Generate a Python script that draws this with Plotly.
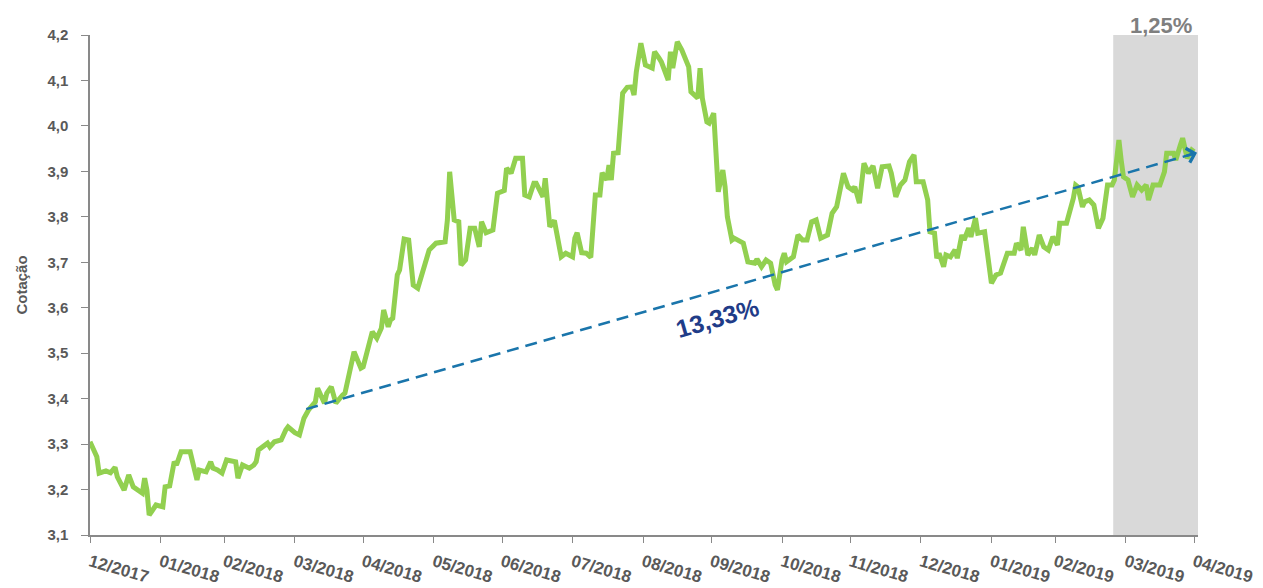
import plotly.graph_objects as go

# ---------------- data ----------------
dates = [
    "2017-12-31", "2018-01-03", "2018-01-04", "2018-01-07", "2018-01-09", "2018-01-11", "2018-01-12",
    "2018-01-15", "2018-01-17", "2018-01-19", "2018-01-23", "2018-01-24", "2018-01-25", "2018-01-26",
    "2018-01-27", "2018-01-29", "2018-02-01", "2018-02-02", "2018-02-04", "2018-02-06", "2018-02-07",
    "2018-02-09", "2018-02-13", "2018-02-16", "2018-02-17", "2018-02-20", "2018-02-22", "2018-02-23",
    "2018-02-25", "2018-02-27", "2018-03-01", "2018-03-05", "2018-03-06", "2018-03-08", "2018-03-11",
    "2018-03-13", "2018-03-14", "2018-03-15", "2018-03-19", "2018-03-20", "2018-03-22", "2018-03-25",
    "2018-03-27", "2018-03-28", "2018-03-31", "2018-04-02", "2018-04-04", "2018-04-06", "2018-04-09",
    "2018-04-10", "2018-04-13", "2018-04-14", "2018-04-16", "2018-04-18", "2018-04-21", "2018-04-22",
    "2018-04-26", "2018-04-29", "2018-04-30", "2018-05-04", "2018-05-06", "2018-05-08", "2018-05-09",
    "2018-05-11", "2018-05-12", "2018-05-13", "2018-05-15", "2018-05-16", "2018-05-18", "2018-05-20",
    "2018-05-22", "2018-05-24", "2018-05-29", "2018-06-01", "2018-06-05", "2018-06-06", "2018-06-07",
    "2018-06-09", "2018-06-11", "2018-06-12", "2018-06-14", "2018-06-16", "2018-06-18", "2018-06-20",
    "2018-06-21", "2018-06-23", "2018-06-26", "2018-06-28", "2018-07-01", "2018-07-02", "2018-07-04",
    "2018-07-06", "2018-07-09", "2018-07-10", "2018-07-12", "2018-07-14", "2018-07-15", "2018-07-17",
    "2018-07-18", "2018-07-19", "2018-07-21", "2018-07-23", "2018-07-26", "2018-07-28", "2018-07-31",
    "2018-08-01", "2018-08-02", "2018-08-04", "2018-08-06", "2018-08-08", "2018-08-10", "2018-08-12",
    "2018-08-13", "2018-08-15", "2018-08-16", "2018-08-17", "2018-08-18", "2018-08-20", "2018-08-22",
    "2018-08-24", "2018-08-26", "2018-08-27", "2018-08-28", "2018-08-30", "2018-09-01", "2018-09-04",
    "2018-09-05", "2018-09-07", "2018-09-08", "2018-09-11", "2018-09-12", "2018-09-13", "2018-09-15",
    "2018-09-17", "2018-09-20", "2018-09-21", "2018-09-24", "2018-09-25", "2018-09-26", "2018-09-28",
    "2018-09-29", "2018-10-01", "2018-10-02", "2018-10-03", "2018-10-05", "2018-10-06", "2018-10-07",
    "2018-10-09", "2018-10-10", "2018-10-14", "2018-10-16", "2018-10-19", "2018-10-20", "2018-10-22",
    "2018-10-24", "2018-10-26", "2018-10-28", "2018-10-29", "2018-10-31", "2018-11-01", "2018-11-02",
    "2018-11-05", "2018-11-07", "2018-11-09", "2018-11-11", "2018-11-13", "2018-11-15", "2018-11-17",
    "2018-11-20", "2018-11-22", "2018-11-24", "2018-11-26", "2018-11-27", "2018-11-29", "2018-12-01",
    "2018-12-02", "2018-12-04", "2018-12-06", "2018-12-08", "2018-12-10", "2018-12-12", "2018-12-14",
    "2018-12-17", "2018-12-18", "2018-12-20", "2018-12-22", "2018-12-24", "2018-12-26", "2018-12-28",
    "2018-12-29", "2019-01-01", "2019-01-03", "2019-01-04", "2019-01-06", "2019-01-07", "2019-01-08",
    "2019-01-10", "2019-01-11", "2019-01-13", "2019-01-15", "2019-01-16", "2019-01-18", "2019-01-19",
    "2019-01-21", "2019-01-22", "2019-01-24", "2019-01-25", "2019-01-28", "2019-01-29", "2019-01-31",
    "2019-02-02", "2019-02-04", "2019-02-07", "2019-02-10", "2019-02-11", "2019-02-13", "2019-02-14",
    "2019-02-16", "2019-02-18", "2019-02-19", "2019-02-21", "2019-02-23", "2019-02-25", "2019-02-27",
    "2019-03-01", "2019-03-02", "2019-03-05", "2019-03-08", "2019-03-09", "2019-03-10", "2019-03-12",
    "2019-03-13", "2019-03-15", "2019-03-17", "2019-03-19", "2019-03-21", "2019-03-23", "2019-03-25",
    "2019-03-26", "2019-03-28", "2019-03-29", "2019-03-30", "2019-04-01", "2019-04-03", "2019-04-05",
    "2019-04-07", "2019-04-09", "2019-04-10", "2019-04-12", "2019-04-15", "2019-04-17", "2019-04-18",
    "2019-04-21", "2019-04-22", "2019-04-24", "2019-04-25", "2019-04-27", "2019-04-29", "2019-04-30",
]

cotacao = [
    3.305, 3.272, 3.236, 3.241, 3.237, 3.249, 3.228,
    3.199, 3.232, 3.206, 3.192, 3.225, 3.199, 3.144,
    3.151, 3.166, 3.162, 3.206, 3.208, 3.261, 3.254,
    3.283, 3.283, 3.221, 3.243, 3.239, 3.261, 3.247,
    3.243, 3.236, 3.265, 3.261, 3.225, 3.254, 3.247,
    3.254, 3.261, 3.287, 3.302, 3.294, 3.305, 3.309,
    3.331, 3.338, 3.325, 3.320, 3.357, 3.375, 3.393,
    3.423, 3.390, 3.412, 3.426, 3.390, 3.408, 3.412,
    3.503, 3.467, 3.470, 3.547, 3.533, 3.555, 3.595,
    3.558, 3.573, 3.577, 3.672, 3.683, 3.751, 3.749,
    3.650, 3.643, 3.727, 3.742, 3.745, 3.793, 3.899,
    3.793, 3.789, 3.694, 3.705, 3.775, 3.775, 3.734,
    3.789, 3.765, 3.771, 3.852, 3.858, 3.907, 3.896,
    3.929, 3.929, 3.848, 3.844, 3.874, 3.874, 3.852,
    3.844, 3.885, 3.778, 3.792, 3.712, 3.720, 3.712,
    3.753, 3.765, 3.721, 3.720, 3.711, 3.848, 3.848,
    3.897, 3.881, 3.914, 3.881, 3.940, 3.941, 4.072,
    4.085, 4.086, 4.068, 4.119, 4.182, 4.134, 4.127,
    4.163, 4.149, 4.141, 4.101, 4.163, 4.127, 4.185,
    4.167, 4.130, 4.075, 4.061, 4.127, 4.061, 4.009,
    4.006, 4.028, 3.947, 3.855, 3.903, 3.866, 3.800,
    3.749, 3.753, 3.742, 3.701, 3.698, 3.707, 3.690,
    3.705, 3.698, 3.650, 3.639, 3.705, 3.720, 3.701,
    3.712, 3.760, 3.749, 3.749, 3.789, 3.793, 3.753,
    3.760, 3.808, 3.822, 3.866, 3.896, 3.866, 3.859,
    3.866, 3.830, 3.918, 3.896, 3.912, 3.863, 3.910,
    3.912, 3.896, 3.844, 3.870, 3.881, 3.921, 3.936,
    3.877, 3.877, 3.837, 3.767, 3.764, 3.709, 3.720,
    3.690, 3.716, 3.712, 3.727, 3.709, 3.760, 3.749,
    3.775, 3.756, 3.797, 3.764, 3.767, 3.727, 3.654,
    3.672, 3.676, 3.720, 3.720, 3.742, 3.727, 3.778,
    3.716, 3.731, 3.716, 3.760, 3.734, 3.727, 3.756,
    3.738, 3.786, 3.786, 3.841, 3.870, 3.866, 3.822,
    3.833, 3.837, 3.826, 3.775, 3.797, 3.870, 3.870,
    3.881, 3.969, 3.925, 3.888, 3.881, 3.844, 3.870,
    3.859, 3.870, 3.837, 3.870, 3.870, 3.899, 3.940,
    3.940, 3.925, 3.958, 3.973, 3.929, 3.947, 3.943,
]

tick_dates = [
    "2017-12-31", "2018-01-31", "2018-02-28", "2018-03-31", "2018-04-30", "2018-05-31",
    "2018-06-30", "2018-07-31", "2018-08-31", "2018-09-30", "2018-10-31", "2018-11-30",
    "2018-12-31", "2019-01-31", "2019-02-28", "2019-03-31", "2019-04-30",
]
tick_labels = [
    "12/2017", "01/2018", "02/2018", "03/2018", "04/2018", "05/2018",
    "06/2018", "07/2018", "08/2018", "09/2018", "10/2018", "11/2018",
    "12/2018", "01/2019", "02/2019", "03/2019", "04/2019",
]

trend_dates = ["2018-04-05", "2019-05-01 08:00"]
trend_values = [3.377, 3.941]
trend_label = "13,33%"
trend_label_date = "2018-10-02 12:00"
trend_label_value = 3.577

highlight_start = "2019-03-25 12:00"
highlight_end = "2019-05-01 18:00"
highlight_label = "1,25%"
highlight_label_date = "2019-04-15 16:00"

x_range = ["2017-12-31", "2019-05-01 18:00"]
y_range = [3.1, 4.2]

# ---------------- figure ----------------
AXIS_GREY = "#898989"
TEXT_GREY = "#595959"
GREEN = "#92d050"
BLUE = "#1a75ab"

fig = go.Figure()

fig.add_shape(
    type="rect", xref="x", yref="y",
    x0=highlight_start, x1=highlight_end, y0=y_range[0], y1=y_range[1],
    fillcolor="#d9d9d9", line_width=0, layer="below",
)

fig.add_trace(go.Scatter(
    x=dates, y=cotacao, mode="lines",
    line=dict(color=GREEN, width=5),
    showlegend=False, name="Cotação",
))

fig.add_trace(go.Scatter(
    x=trend_dates, y=trend_values, mode="lines",
    line=dict(color=BLUE, width=2.5, dash="12px,7px"),
    showlegend=False, hoverinfo="skip",
))

# arrow head (open chevron) at the end of the trend line
fig.add_annotation(
    x=trend_dates[1], y=trend_values[1], xref="x", yref="y",
    ax=-12, ay=3.5, text="", showarrow=True,
    arrowhead=4, arrowsize=1.15, arrowwidth=2.5, arrowcolor=BLUE,
)

fig.add_annotation(
    x=trend_label_date, y=trend_label_value, xref="x", yref="y",
    text="<b>" + trend_label + "</b>", showarrow=False, textangle=-16,
    font=dict(family="Liberation Sans, Arial, sans-serif", size=25, color="#1f3c88"),
)

fig.add_annotation(
    x=highlight_label_date, y=1, xref="x", yref="paper",
    text="<b>" + highlight_label + "</b>", showarrow=False,
    yanchor="middle", yshift=10,
    font=dict(family="Liberation Sans, Arial, sans-serif", size=22, color="#7f7f7f"),
)

fig.update_layout(
    width=1263, height=588,
    margin=dict(l=90, r=65, t=35, b=53),
    paper_bgcolor="white", plot_bgcolor="white",
    separators=",.",
    font=dict(family="Liberation Sans, Arial, sans-serif", color=TEXT_GREY),
    showlegend=False,
)

fig.update_xaxes(
    type="date", range=x_range, automargin=False,
    tickmode="array", tickvals=tick_dates, ticktext=tick_labels,
    tickangle=16,
    tickfont=dict(size=17, color=TEXT_GREY, weight="bold"),
    showline=True, linecolor=AXIS_GREY, linewidth=1.5,
    ticks="outside", ticklen=6, tickcolor=AXIS_GREY, tickwidth=1.2,
    ticklabelstandoff=3,
    showgrid=False, zeroline=False,
)

fig.update_yaxes(
    range=y_range, tick0=3.1, dtick=0.1, tickformat=".1f", automargin=False,
    tickfont=dict(size=15, color=TEXT_GREY, weight="bold"),
    showline=True, linecolor=AXIS_GREY, linewidth=1.5,
    ticks="outside", ticklen=7, tickcolor=AXIS_GREY, tickwidth=1.2,
    ticklabelstandoff=10,
    showgrid=False, zeroline=False,
    title=dict(text="Cotação", standoff=16,
               font=dict(size=15, color=TEXT_GREY, weight="bold")),
)

fig.write_html("out.html")
